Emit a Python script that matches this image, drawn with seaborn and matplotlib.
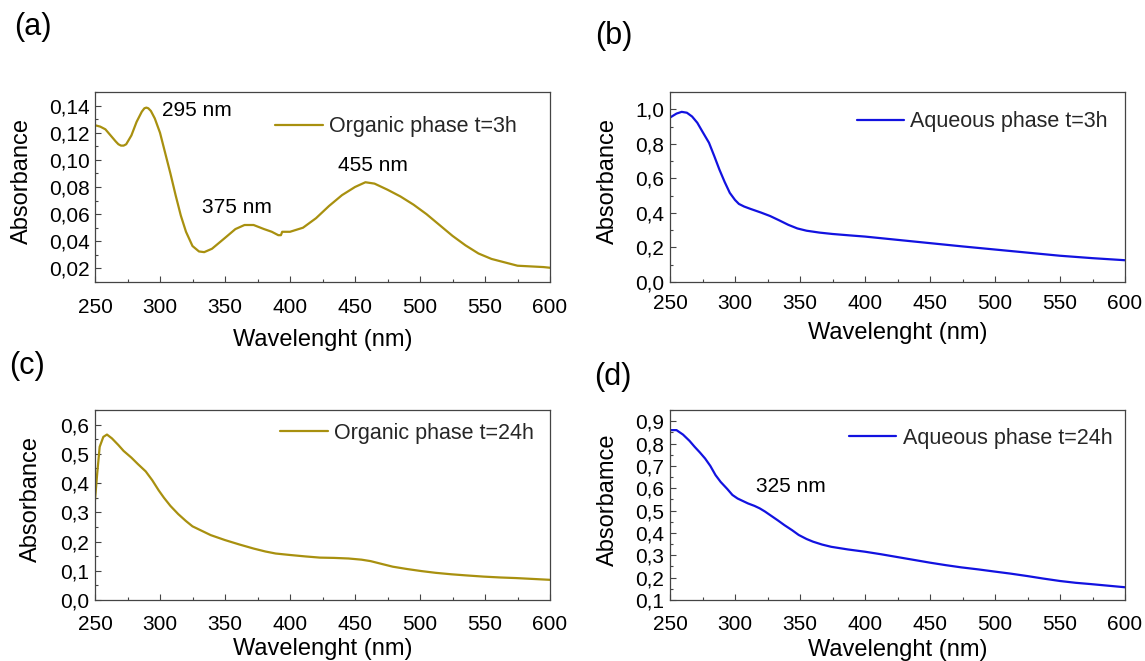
import numpy as np
import pandas as pd
import matplotlib
matplotlib.use("Agg")
import matplotlib.pyplot as plt
from matplotlib.ticker import MultipleLocator, FuncFormatter
import seaborn as sns

# ---------------- data ----------------
wl_a = [250, 254, 258, 262, 266, 268, 270, 272, 274, 278, 282, 286, 288, 289.5, 291, 293,
        296, 300, 304, 308, 312, 316, 320, 325, 330, 334, 340, 350, 358, 365, 372, 380,
        386, 391, 393, 394, 400, 410, 420, 430, 440, 450, 458, 465, 475, 485, 495, 505,
        515, 525, 535, 545, 555, 565, 575, 585, 595, 600]
abs_a = [0.1255, 0.1245, 0.1225, 0.118, 0.1135, 0.1115, 0.1105, 0.1105, 0.1115, 0.118,
         0.128, 0.1355, 0.1380, 0.1385, 0.1380, 0.1360, 0.1305, 0.120, 0.105, 0.090,
         0.074, 0.059, 0.047, 0.0365, 0.0325, 0.032, 0.0345, 0.0425, 0.049, 0.052, 0.052,
         0.049, 0.047, 0.0445, 0.0445, 0.047, 0.047, 0.050, 0.057, 0.066, 0.074, 0.080,
         0.0835, 0.0825, 0.078, 0.073, 0.067, 0.060, 0.052, 0.044, 0.037, 0.031, 0.027,
         0.0245, 0.022, 0.0215, 0.021, 0.0205]

wl_b = [250, 255, 259, 263, 267, 271, 275, 280, 284, 288, 292, 296, 300, 303, 307, 312,
        320, 327, 334, 341, 348, 355, 365, 375, 388, 400, 425, 450, 475, 500, 525, 550,
        575, 600]
abs_b = [0.952, 0.975, 0.985, 0.980, 0.958, 0.922, 0.87, 0.806, 0.73, 0.651, 0.58, 0.516,
         0.475, 0.452, 0.437, 0.423, 0.402, 0.382, 0.357, 0.331, 0.310, 0.297, 0.286,
         0.278, 0.270, 0.263, 0.244, 0.225, 0.206, 0.188, 0.170, 0.152, 0.138, 0.126]

wl_c = [250, 251.7, 253.6, 256.4, 259.2, 263, 268, 272, 278, 283, 289, 294, 299, 303, 308,
        314, 320, 325, 332, 339, 350, 361, 372, 381, 389, 400, 412, 423, 434, 445, 455,
        462, 470, 479, 490, 501, 512, 524, 536, 549, 562, 574, 587, 600]
abs_c = [0.342, 0.433, 0.524, 0.558, 0.566, 0.553, 0.530, 0.510, 0.487, 0.465, 0.440,
         0.410, 0.375, 0.350, 0.322, 0.294, 0.270, 0.252, 0.237, 0.222, 0.205, 0.190,
         0.176, 0.166, 0.159, 0.154, 0.149, 0.145, 0.144, 0.142, 0.138, 0.133, 0.124,
         0.114, 0.106, 0.099, 0.093, 0.088, 0.084, 0.080, 0.077, 0.075, 0.072, 0.069]

wl_d = [250, 255, 260, 265, 269, 273, 277, 281, 285, 289, 294, 298, 302, 306, 310, 315,
        319, 323, 327, 333, 338, 344, 349, 355, 360, 367, 374, 387, 400, 412, 424, 437,
        450, 462, 474, 487, 500, 512, 525, 537, 550, 562, 574, 587, 600]
abs_d = [0.860, 0.860, 0.840, 0.812, 0.785, 0.760, 0.733, 0.700, 0.659, 0.628, 0.597,
         0.570, 0.554, 0.543, 0.532, 0.521, 0.510, 0.496, 0.480, 0.456, 0.435, 0.412,
         0.391, 0.373, 0.361, 0.348, 0.338, 0.326, 0.316, 0.305, 0.293, 0.280, 0.267,
         0.256, 0.246, 0.237, 0.227, 0.218, 0.207, 0.196, 0.185, 0.177, 0.171, 0.164,
         0.157]

series_labels = ["Organic phase t=3h", "Aqueous phase t=3h",
                 "Organic phase t=24h", "Aqueous phase t=24h"]
panel_labels = ["(a)", "(b)", "(c)", "(d)"]
ylabels = ["Absorbance", "Absorbance", "Absorbance", "Absorbamce"]
xlabel = "Wavelenght (nm)"
peak_labels_a = ["295 nm", "375 nm", "455 nm"]
peak_pos_a = [(301.5, 0.1362), (332.2, 0.0647), (437.1, 0.0955)]
peak_labels_d = ["325 nm"]
peak_pos_d = [(315.9, 0.607)]

# ---------------- style ----------------
sns.set_theme(style="ticks")
plt.rcParams["font.family"] = ["Liberation Sans", "DejaVu Sans"]
plt.rcParams["axes.unicode_minus"] = False

OLIVE = "#A8900F"
BLUE = "#1212E0"
SPINE = "#444444"

W, H = 1145, 661
fig = plt.figure(figsize=(W / 100, H / 100), dpi=100)

def ax_rect(x0, y0, x1, y1):
    return [x0 / W, 1 - y1 / H, (x1 - x0) / W, (y1 - y0) / H]

rects = [ax_rect(95, 92, 550, 282), ax_rect(670, 92, 1125, 282),
         ax_rect(95, 410, 550, 600), ax_rect(670, 410, 1125, 600)]
datasets = [(wl_a, abs_a), (wl_b, abs_b), (wl_c, abs_c), (wl_d, abs_d)]
colors = [OLIVE, BLUE, OLIVE, BLUE]
ylims = [(0.01, 0.15), (0.0, 1.1), (0.0, 0.65), (0.1, 0.95)]
ymajor = [0.02, 0.2, 0.1, 0.1]
yminor = [0.01, 0.1, 0.05, 0.05]
ydec = [2, 1, 1, 1]
legend_anchor = [(0.396, 0.817), (0.410, 0.844), (0.407, 0.877), (0.393, 0.851)]
xtick_pad = [11.5, 9, 11, 11]
xlabel_y = [-0.25, -0.21, -0.20, -0.205]
ylabel_x = [-0.137, -0.113, -0.116, -0.113]
ylabel_y = [0.53, 0.53, 0.53, 0.53]
panel_xy = [(33, 27), (614, 36), (27, 366), (613, 377)]

for i in range(4):
    ax = fig.add_axes(rects[i])
    wl, ab = datasets[i]
    df = pd.DataFrame({"wl": wl, "abs": ab})
    sns.lineplot(data=df, x="wl", y="abs", ax=ax, color=colors[i], lw=1.6,
                 label=series_labels[i], sort=False)
    ax.set_xlim(250, 600)
    ax.set_ylim(*ylims[i])
    ax.xaxis.set_major_locator(MultipleLocator(50))
    ax.xaxis.set_minor_locator(MultipleLocator(25))
    ax.yaxis.set_major_locator(MultipleLocator(ymajor[i]))
    ax.yaxis.set_minor_locator(MultipleLocator(yminor[i]))
    d = ydec[i]
    ax.yaxis.set_major_formatter(FuncFormatter(lambda v, p, d=d: f"{v:.{d}f}".replace(".", ",")))
    ax.tick_params(axis="both", which="major", direction="in", length=4, width=0.8,
                   color=SPINE, labelsize=15, labelcolor="black")
    ax.tick_params(axis="both", which="minor", direction="in", length=2.3, width=0.8,
                   color=SPINE)
    ax.tick_params(axis="x", which="major", pad=xtick_pad[i])
    ax.tick_params(axis="y", which="major", pad=4)
    for s in ax.spines.values():
        s.set_visible(True)
        s.set_color(SPINE)
        s.set_linewidth(0.9)
    ax.set_xlabel(xlabel, fontsize=17, color="black")
    ax.set_ylabel(ylabels[i], fontsize=17, color="black")
    ax.xaxis.set_label_coords(0.5, xlabel_y[i])
    ax.yaxis.set_label_coords(ylabel_x[i], ylabel_y[i])
    ax.legend(loc="center left", bbox_to_anchor=legend_anchor[i], frameon=False,
              fontsize=15.5, handlelength=2.2, handletextpad=0.3, borderpad=0,
              borderaxespad=0)
    if i == 0:
        for t, (x, y) in zip(peak_labels_a, peak_pos_a):
            ax.text(x, y, t, fontsize=15, ha="left", va="center", color="black")
    if i == 3:
        for t, (x, y) in zip(peak_labels_d, peak_pos_d):
            ax.text(x, y, t, fontsize=15, ha="left", va="center", color="black")
    px, py = panel_xy[i]
    fig.text(px / W, 1 - py / H, panel_labels[i], fontsize=22, ha="center", va="center",
             color="black")

fig.savefig("out.png", dpi=100, facecolor="white")
